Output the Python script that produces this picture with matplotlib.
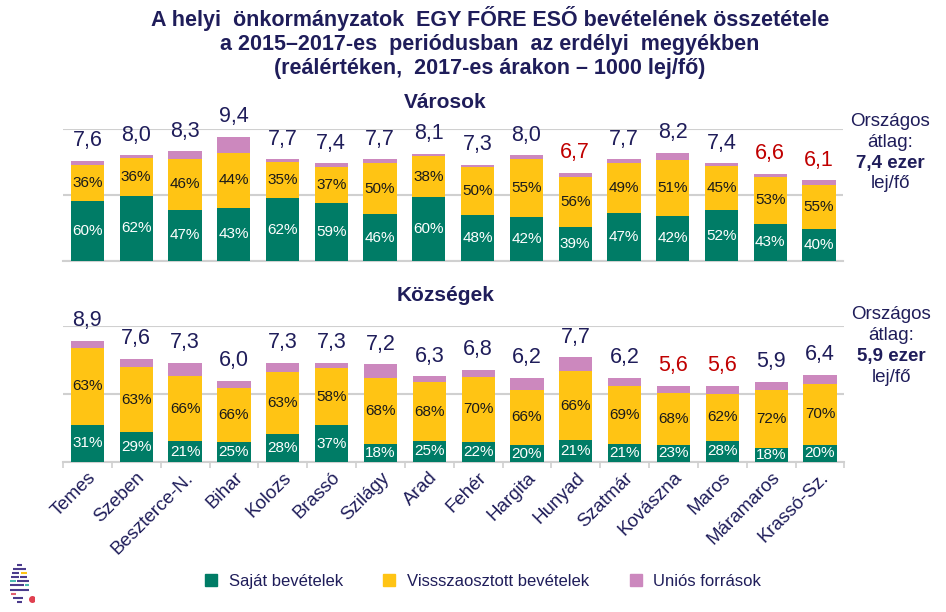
#!/usr/bin/env python3
import matplotlib
matplotlib.use('Agg')
import matplotlib.pyplot as plt
import numpy as np
from matplotlib.lines import Line2D

plt.rcParams['font.family'] = ['Liberation Sans', 'DejaVu Sans']

counties = ['Temes', 'Szeben', 'Beszterce-N.', 'Bihar', 'Kolozs', 'Brassó', 'Szilágy', 'Arad',
            'Fehér', 'Hargita', 'Hunyad', 'Szatmár', 'Kovászna', 'Maros', 'Máramaros', 'Krassó-Sz.']

# Városok (towns) - total revenue per capita, 1000 lei, and shares in %
town_total = [7.6, 8.0, 8.3, 9.4, 7.7, 7.4, 7.7, 8.1, 7.3, 8.0, 6.7, 7.7, 8.2, 7.4, 6.6, 6.1]
town_own = [60, 62, 47, 43, 62, 59, 46, 60, 48, 42, 39, 47, 42, 52, 43, 40]
town_redist = [36, 36, 46, 44, 35, 37, 50, 38, 50, 55, 56, 49, 51, 45, 53, 55]
town_low = [False] * 10 + [True] + [False] * 3 + [True, True]
town_avg = '7,4'

# Községek (communes)
comm_total = [8.9, 7.6, 7.3, 6.0, 7.3, 7.3, 7.2, 6.3, 6.8, 6.2, 7.7, 6.2, 5.6, 5.6, 5.9, 6.4]
comm_own = [31, 29, 21, 25, 28, 37, 18, 25, 22, 20, 21, 21, 23, 28, 18, 20]
comm_redist = [63, 63, 66, 66, 63, 58, 68, 68, 70, 66, 66, 69, 68, 62, 72, 70]
comm_low = [False] * 12 + [True, True, False, False]
comm_avg = '5,9'

GREEN = '#007c66'
YELLOW = '#ffc414'
PINK = '#cc88be'
NAVY = '#1f1d5a'
RED = '#c00000'
GRID = '#d0d0d0'


def fmt(v):
    return f'{v:.1f}'.replace('.', ',')


fig = plt.figure(figsize=(9.46, 6.12), dpi=100)
ax1 = fig.add_axes([0.0666, 0.5735, 0.825, 0.2157])
ax2 = fig.add_axes([0.0666, 0.245, 0.826, 0.222])

for ax, tot, own, red, low, name, avg, side_y in [
        (ax1, town_total, town_own, town_redist, town_low, 'Városok', town_avg,
         [1.06, 0.90, 0.742, 0.585]),
        (ax2, comm_total, comm_own, comm_redist, comm_low, 'Községek', comm_avg,
         [1.088, 0.93, 0.78, 0.625])]:
    total = np.array(tot)
    x = np.arange(len(total))
    h_own = total * np.array(own) / 100
    h_red = total * np.array(red) / 100
    h_eu = total - h_own - h_red
    ax.bar(x, h_own, 0.68, color=GREEN, zorder=3)
    ax.bar(x, h_red, 0.68, bottom=h_own, color=YELLOW, zorder=3)
    ax.bar(x, h_eu, 0.68, bottom=h_own + h_red, color=PINK, zorder=3)
    for i in x:
        ax.text(i, h_own[i] / 2, f'{own[i]}%', ha='center', va='center',
                color='white', fontsize=11, zorder=4)
        ax.text(i, h_own[i] + h_red[i] / 2, f'{red[i]}%', ha='center',
                va='center', color='#1a1a1a', fontsize=11, zorder=4)
        ax.annotate(fmt(total[i]), (i, total[i]), xytext=(0, 7), textcoords='offset points',
                    ha='center', va='bottom', fontsize=15.5, color=RED if low[i] else NAVY,
                    annotation_clip=False)
    ax.set_xlim(-0.5, len(total) - 0.5)
    ax.set_ylim(0, 10)
    ax.set_yticks([0, 5, 10])
    ax.yaxis.grid(True, color=GRID, lw=1.5, zorder=0)
    ax.tick_params(axis='y', length=0, labelleft=False)
    for s in ['top', 'right', 'left']:
        ax.spines[s].set_visible(False)
    ax.spines['bottom'].set_color(GRID)
    ax.spines['bottom'].set_linewidth(1.5)
    ax.text(0.49, side_y[0] + 0.14, name, transform=ax.transAxes, ha='center', va='center',
            fontsize=15, fontweight='bold', color=NAVY)
    for y, s, wt in zip(side_y, ['Országos', 'átlag:', f'{avg} ezer', 'lej/fő'],
                        ['normal', 'normal', 'bold', 'normal']):
        ax.text(1.06, y, s, transform=ax.transAxes, ha='center', va='center',
                fontsize=13.5, color=NAVY, fontweight=wt)

ax1.tick_params(axis='x', length=0, labelbottom=False)
ax2.set_xticks(np.arange(len(counties)))
ax2.set_xticklabels(counties, rotation=45, ha='right', rotation_mode='anchor',
                    fontsize=13.5, color=NAVY)
ax2.set_xticks(np.arange(len(counties) + 1) - 0.5, minor=True)
ax2.tick_params(axis='x', which='major', length=0, pad=5)
ax2.tick_params(axis='x', which='minor', length=4, color=GRID, width=1.2)

fig.text(0.518, 0.99, 'A helyi  önkormányzatok  EGY FŐRE ESŐ bevételének összetétele\n'
         'a 2015–2017-es  periódusban  az erdélyi  megyékben\n'
         '(reálértéken,  2017-es árakon – 1000 lej/fő)',
         ha='center', va='top', fontsize=15.5, fontweight='bold', color=NAVY, linespacing=1.17)

handles = [Line2D([], [], marker='s', ls='', color=c, markersize=8) for c in (GREEN, YELLOW, PINK)]
fig.legend(handles, ['Saját bevételek', 'Vissszaosztott bevételek', 'Uniós források'],
           loc='center', bbox_to_anchor=(0.505, 0.05), ncol=3, frameon=False, fontsize=12,
           handletextpad=0.05, columnspacing=1.8, labelcolor=NAVY)

# small logo in the bottom-left corner
logo = fig.add_axes([0.008, 0.012, 0.028, 0.07])
logo_strokes = [(0.92, 0.35, 0.55, '#4b3b8c'), (0.82, 0.2, 0.7, '#4b3b8c'),
                (0.72, 0.15, 0.45, '#4b3b8c'), (0.72, 0.5, 0.72, '#ffc414'),
                (0.62, 0.12, 0.42, '#4b3b8c'), (0.62, 0.48, 0.75, '#4b3b8c'),
                (0.52, 0.08, 0.3, '#4bb8b0'), (0.52, 0.35, 0.8, '#4b3b8c'),
                (0.42, 0.08, 0.62, '#4b3b8c'), (0.42, 0.66, 0.82, '#4bb8b0'),
                (0.32, 0.1, 0.8, '#4b3b8c'), (0.22, 0.12, 0.3, '#e06070'),
                (0.12, 0.2, 0.6, '#4b3b8c'), (0.02, 0.35, 0.55, '#4b3b8c')]
for y, x0, x1, c in logo_strokes:
    logo.plot([x0, x1], [y, y], color=c, lw=1.5, solid_capstyle='butt')
logo.plot([0.92], [0.08], 'o', color='#e04050', ms=4)
logo.set_xlim(0, 1)
logo.set_ylim(-0.05, 1)
logo.axis('off')

fig.savefig('out.png', dpi=100)
